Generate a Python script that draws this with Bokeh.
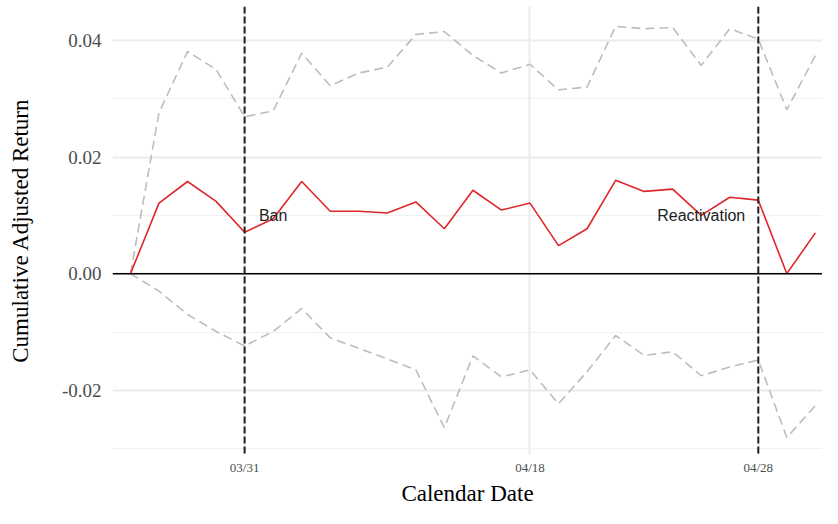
from bokeh.plotting import figure
from bokeh.models import Span, FixedTicker, Range1d, Label
from bokeh.embed import file_html
from bokeh.resources import INLINE

# Trading-day index (0..24) and data
day_index = list(range(25))
car = [0.0, 0.0121, 0.0158, 0.0124, 0.0071, 0.0094, 0.0158, 0.0107, 0.0107, 0.0104,
       0.0123, 0.0077, 0.0143, 0.0109, 0.0121, 0.0048, 0.0077, 0.0160, 0.0141, 0.0145,
       0.0100, 0.0131, 0.0126, 0.0000, 0.0070]
upper = [0.0, 0.0276, 0.0381, 0.0350, 0.0269, 0.0279, 0.0378, 0.0322, 0.0344, 0.0354,
         0.0410, 0.0415, 0.0374, 0.0344, 0.0359, 0.0315, 0.0320, 0.0424, 0.0420, 0.0422,
         0.0357, 0.0420, 0.0402, 0.0281, 0.0374]
lower = [0.0, -0.0030, -0.0070, -0.0099, -0.0124, -0.0099, -0.0060, -0.0110, -0.0128, -0.0146,
         -0.0165, -0.0264, -0.0141, -0.0177, -0.0165, -0.0223, -0.0168, -0.0106, -0.0140, -0.0134,
         -0.0175, -0.0160, -0.0148, -0.0281, -0.0226]

tick_index = [4, 14, 22]
tick_labels = ["03/31", "04/18", "04/28"]
event_index = [4, 22]
event_labels = ["Ban", "Reactivation"]
event_label_x = [5, 20]
event_label_y = [0.01, 0.01]

y_ticks = [-0.02, 0.0, 0.02, 0.04]
y_minor = [-0.03, -0.01, 0.01, 0.03]

p = figure(width=822, height=508, output_backend="svg", toolbar_location=None,
           x_range=Range1d(-0.63, 24.25), y_range=Range1d(-0.0310, 0.0458),
           min_border_left=112, min_border_right=0, min_border_top=6, min_border_bottom=0)
p.outline_line_color = None
p.background_fill_color = "white"
p.border_fill_color = "white"

# grids
p.xgrid.ticker = FixedTicker(ticks=tick_index)
p.xgrid.grid_line_color = "#ebebeb"
p.xgrid.grid_line_width = 2
p.ygrid.ticker = FixedTicker(ticks=y_ticks, minor_ticks=y_minor)
p.ygrid.grid_line_color = "#ebebeb"
p.ygrid.grid_line_width = 2
p.ygrid.minor_grid_line_color = "#f0f0f0"
p.ygrid.minor_grid_line_width = 1.2

# axes
for ax in (p.xaxis[0], p.yaxis[0]):
    ax.axis_line_color = None
    ax.major_tick_line_color = None
    ax.minor_tick_line_color = None
    ax.major_tick_out = 0
    ax.major_tick_in = 0
    ax.minor_tick_out = 0
    ax.minor_tick_in = 0
    ax.major_label_text_font = "Liberation Serif"
    ax.major_label_text_color = "#4d4d4d"
    ax.axis_label_text_font = "Liberation Serif"
    ax.axis_label_text_font_style = "normal"
    ax.axis_label_text_color = "black"
    ax.axis_label_text_font_size = "23px"

p.xaxis.ticker = FixedTicker(ticks=tick_index)
p.xaxis.major_label_overrides = {i: l for i, l in zip(tick_index, tick_labels)}
p.xaxis.major_label_text_font_size = "13px"
p.xaxis.major_label_standoff = 5
p.xaxis.axis_label = "Calendar Date"
p.xaxis.axis_label_standoff = 3

p.yaxis.ticker = FixedTicker(ticks=y_ticks)
p.yaxis.major_label_overrides = {t: f"{t:.2f}" for t in y_ticks}
p.yaxis.major_label_text_font_size = "19px"
p.yaxis.major_label_standoff = 11
p.yaxis.axis_label = "Cumulative Adjusted Return"
p.yaxis.axis_label_standoff = 26

# confidence bands
p.line(day_index, upper, line_color="#bdbdbd", line_width=1.6, line_dash="9 5")
p.line(day_index, lower, line_color="#bdbdbd", line_width=1.6, line_dash="9 5")

# zero line
p.add_layout(Span(location=0, dimension="width", line_color="black", line_width=1.5))

# event lines
for xi in event_index:
    p.add_layout(Span(location=xi, dimension="height", line_color="#222222",
                      line_width=2, line_dash="7 3"))

# CAR line
p.line(day_index, car, line_color="#e0262a", line_width=1.6)

# labels
for lx, ly, txt in zip(event_label_x, event_label_y, event_labels):
    p.add_layout(Label(x=lx, y=ly, text=txt, text_align="center", text_baseline="middle",
                       text_font="Liberation Sans", text_font_size="16px", text_color="#222222"))

open("out.html", "w").write(file_html(p, INLINE))
